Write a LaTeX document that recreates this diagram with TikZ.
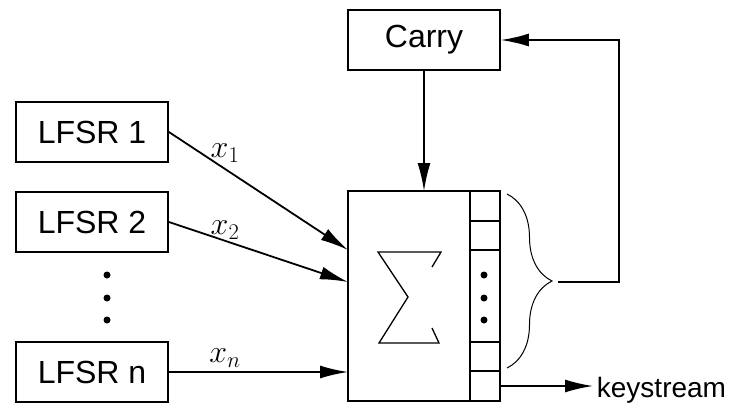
\RequirePackage{fix-cm}
\documentclass[tikz,border=0pt]{standalone}
\usepackage{fontspec}
\setmainfont{Liberation Sans}
\usetikzlibrary{arrows.meta,positioning,decorations.pathreplacing}

\begin{document}
\begin{tikzpicture}[x=1pt, y=-1pt, line width=1.8pt,
  every node/.style={font=\fontsize{32}{38}\selectfont},
  block/.style={draw, minimum width=152pt, minimum height=60pt, inner sep=0pt},
  cell/.style={draw, minimum width=30pt, inner sep=0pt, outer sep=0pt},
  arr/.style={-{Latex[length=28pt,width=13pt]}}]
  \useasboundingbox (0,0) rectangle (730,404);

  % lfsr boxes
  \node[block] (lfsr1) at (92,132) {LFSR 1};
  \node[block] (lfsr2) at (92,222) {LFSR 2};
  \node[block] (lfsrn) at (92,372) {LFSR n};
  \foreach \y in {275,298,320}
    \fill (107,\y) circle[radius=3.5pt];

  % carry
  \node[block] (carry) at (424,40) {Carry};

  % adder and register
  \node[draw, minimum width=122pt, minimum height=210pt, inner sep=0pt, outer sep=0pt] (sum) at (409,296) {};
  \node[cell, minimum height=30pt, anchor=north west] (c1) at (sum.north east) {};
  \node[cell, minimum height=29pt, below=0pt of c1] (c2) {};
  \node[cell, minimum height=92pt, below=0pt of c2] (c3) {};
  \node[cell, minimum height=29pt, below=0pt of c3] (c4) {};
  \node[cell, minimum height=30pt, below=0pt of c4] (c5) {};
  \foreach \y in {275,298,320}
    \fill (484,\y) circle[radius=3.5pt];

  % sigma
  \draw[line width=1.3pt, line join=miter] (432,267) -- (441,252) -- (378,252) -- (408,297)
    -- (379,343) -- (439,343) -- (432,328);

  % brace
  \draw[decorate, decoration={brace, amplitude=45pt}, line width=1pt] (507,194) -- (507,368);
  \coordinate (tip) at (558,282);

  % inputs
  \draw[arr] (lfsr1.east) -- ([yshift=46pt]sum.west);
  \draw[arr] (lfsr2.east) -- ([yshift=14pt]sum.west);
  \draw[arr] (lfsrn.east) -- (sum.west |- lfsrn.east);
  \node (x1) at (225,153) {$x_1$};
  \node (x2) at (225,230) {$x_2$};
  \node (xn) at (225,358) {$x_n$};

  % carry in and feedback
  \draw[arr] (carry.south) -- (carry |- sum.north);
  \draw[arr] (tip) -| ([xshift=118pt]carry.east) -- (carry.east);

  % output
  \node[anchor=base west, inner sep=0pt, font=\fontsize{28}{34}\selectfont] (ks) at (596,397) {keystream};
  \draw[arr] (c5.east) -- ([xshift=-3pt]c5.east -| ks.west);
\end{tikzpicture}
\end{document}
